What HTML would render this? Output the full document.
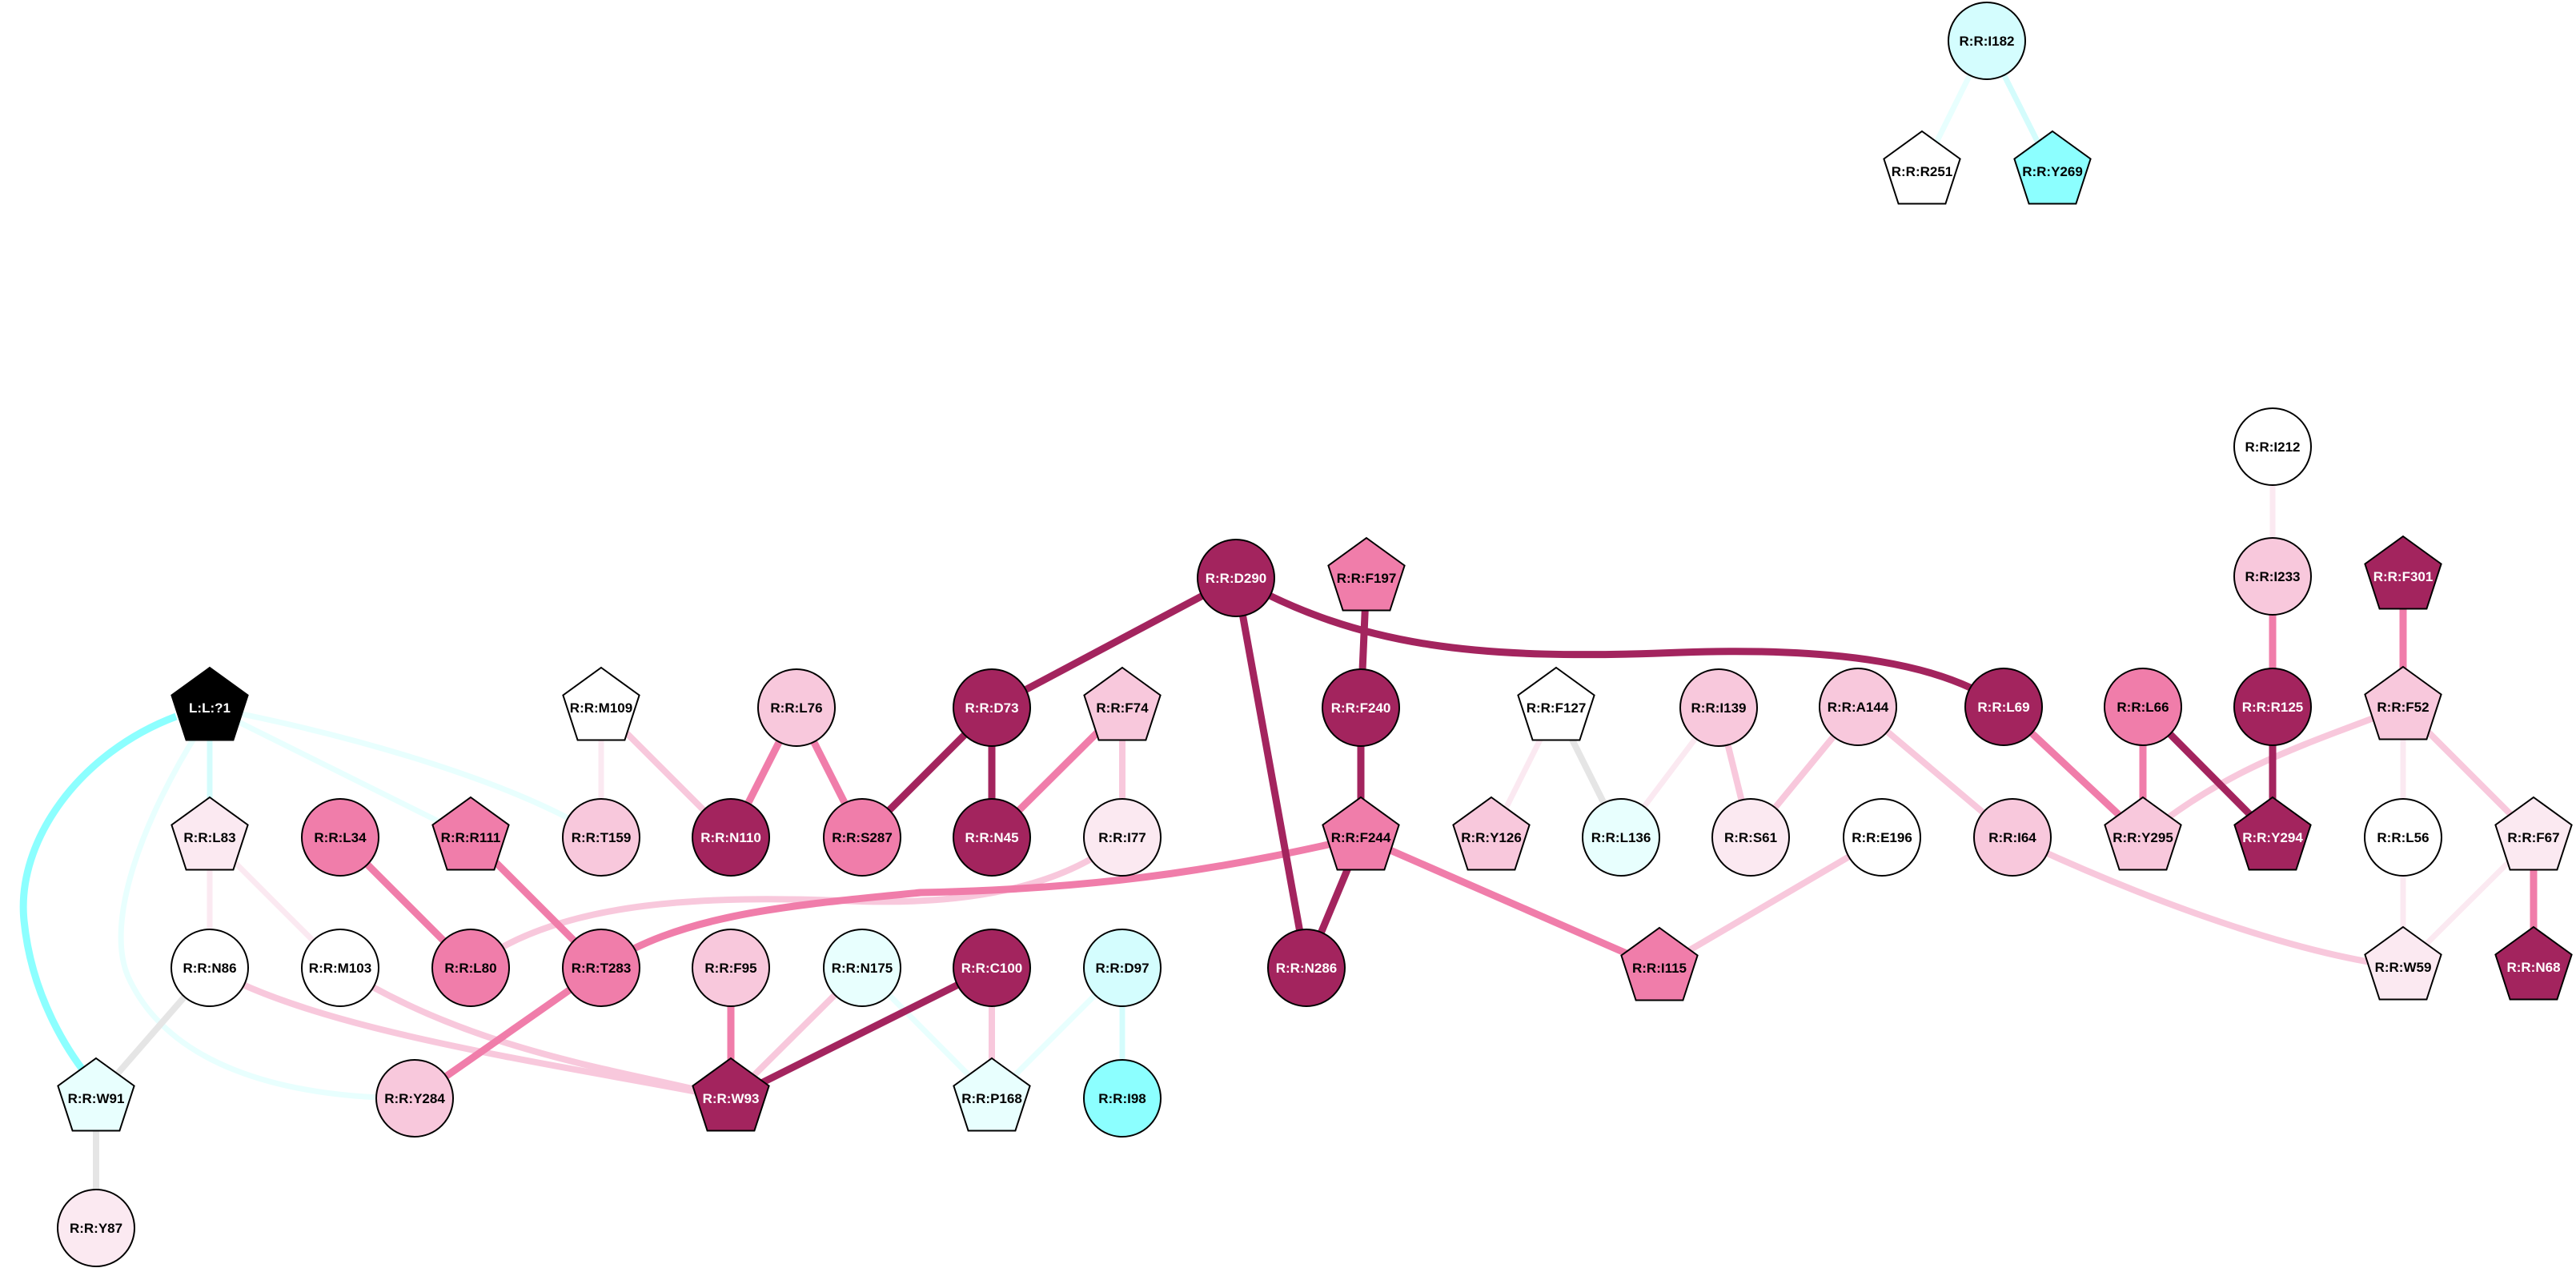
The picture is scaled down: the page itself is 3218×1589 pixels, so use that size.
<!DOCTYPE html>
<html><head><meta charset="utf-8"><style>html,body{margin:0;padding:0;background:#fff}svg{display:block}</style></head>
<body>
<svg width="3218" height="1589" viewBox="0 0 3218 1589" xmlns="http://www.w3.org/2000/svg">
<defs>
<polygon id="pg" points="0,-50 47.6,-15.5 29.4,40.5 -29.4,40.5 -47.6,-15.5"/>
</defs>
<g fill="none" stroke-linecap="butt">
<!-- cyan edges -->
<path d="M220,895 C100,940 20,1050 30,1150 C40,1250 90,1320 110,1345" stroke="#8cffff" stroke-width="9"/>
<line x1="262" y1="884" x2="262" y2="1046" stroke="#d4fcfc" stroke-width="7"/>
<line x1="262" y1="884" x2="588" y2="1046" stroke="#e8fffe" stroke-width="7"/>
<path d="M262,884 C450,920 650,980 751,1046" stroke="#e8fffe" stroke-width="7"/>
<path d="M250,910 C180,1020 130,1150 160,1220 C210,1330 350,1372 518,1372" stroke="#e8fffe" stroke-width="7"/>
<line x1="1077" y1="1209" x2="1239" y2="1372" stroke="#e8fffe" stroke-width="7"/>
<line x1="1402" y1="1209" x2="1239" y2="1372" stroke="#e8fffe" stroke-width="7"/>
<line x1="1402" y1="1209" x2="1402" y2="1372" stroke="#d4fcfc" stroke-width="7"/>
<line x1="2482" y1="51" x2="2401" y2="214" stroke="#e8fffe" stroke-width="7"/>
<line x1="2482" y1="51" x2="2564" y2="214" stroke="#d4fcfc" stroke-width="7"/>
<!-- gray -->
<line x1="262" y1="1209" x2="120" y2="1372" stroke="#e5e5e5" stroke-width="8"/>
<line x1="120" y1="1372" x2="120" y2="1534" stroke="#e5e5e5" stroke-width="8"/>
<line x1="1944" y1="884" x2="2025" y2="1046" stroke="#e5e5e5" stroke-width="8"/>
<!-- very light pink -->
<g stroke="#fbe9f1" stroke-width="7">
<line x1="262" y1="1046" x2="262" y2="1209"/>
<line x1="262" y1="1046" x2="425" y2="1209"/>
<line x1="751" y1="884" x2="751" y2="1046"/>
<line x1="1944" y1="884" x2="1863" y2="1046"/>
<line x1="2147" y1="884" x2="2025" y2="1046"/>
<line x1="2839" y1="558" x2="2839" y2="720"/>
<line x1="3002" y1="883" x2="3002" y2="1046"/>
<line x1="3002" y1="1046" x2="3002" y2="1208"/>
<line x1="3165" y1="1046" x2="3002" y2="1208"/>
</g>
<!-- light pink -->
<g stroke="#f8c8dc" stroke-width="8">
<line x1="751" y1="884" x2="913" y2="1046"/>
<path d="M262,1209 C400,1290 700,1330 913,1372"/>
<path d="M425,1209 C600,1320 800,1340 913,1372"/>
<path d="M588,1209 C700,1120 900,1120 1050,1125 C1250,1135 1350,1090 1402,1046"/>
<line x1="1077" y1="1209" x2="913" y2="1372"/>
<line x1="1402" y1="884" x2="1402" y2="1046"/>
<line x1="1239" y1="1209" x2="1239" y2="1372"/>
<line x1="2147" y1="884" x2="2187" y2="1046"/>
<line x1="2321" y1="883" x2="2187" y2="1046"/>
<line x1="2321" y1="883" x2="2514" y2="1046"/>
<line x1="2351" y1="1046" x2="2073" y2="1209"/>
<path d="M3002,883 C2880,930 2780,960 2677,1046"/>
<line x1="3002" y1="883" x2="3165" y2="1046"/>
<path d="M2514,1046 C2650,1110 2850,1190 3002,1208"/>
</g>
<!-- pink -->
<g stroke="#f07daa" stroke-width="9">
<line x1="425" y1="1046" x2="588" y2="1209"/>
<line x1="588" y1="1046" x2="751" y2="1209"/>
<line x1="995" y1="884" x2="913" y2="1046"/>
<line x1="995" y1="884" x2="1077" y2="1046"/>
<path d="M751,1209 C850,1140 1000,1130 1150,1115 C1400,1110 1550,1080 1700,1046"/>
<line x1="751" y1="1209" x2="518" y2="1372"/>
<line x1="913" y1="1209" x2="913" y2="1372"/>
<line x1="1402" y1="884" x2="1239" y2="1046"/>
<line x1="1700" y1="1046" x2="2073" y2="1209"/>
<line x1="2503" y1="883" x2="2677" y2="1046"/>
<line x1="2677" y1="883" x2="2677" y2="1046"/>
<line x1="2839" y1="720" x2="2839" y2="883"/>
<line x1="3002" y1="720" x2="3002" y2="883"/>
<line x1="3165" y1="1046" x2="3165" y2="1208"/>
</g>
<!-- dark -->
<g stroke="#a3245e" stroke-width="9">
<line x1="1239" y1="1209" x2="913" y2="1372"/>
<line x1="1544" y1="722" x2="1239" y2="884"/>
<line x1="1544" y1="722" x2="1632" y2="1209"/>
<path d="M1544,722 C1700,810 1850,825 2100,815 C2300,808 2430,830 2503,883"/>
<line x1="1707" y1="722" x2="1700" y2="884"/>
<line x1="1700" y1="884" x2="1700" y2="1046"/>
<line x1="1700" y1="1046" x2="1632" y2="1209"/>
<line x1="1239" y1="884" x2="1077" y2="1046"/>
<line x1="1239" y1="884" x2="1239" y2="1046"/>
<line x1="2677" y1="883" x2="2839" y2="1046"/>
<line x1="2839" y1="883" x2="2839" y2="1046"/>
</g>
</g>
<g stroke="#000" stroke-width="2" font-family="Liberation Sans, Arial, sans-serif" font-weight="bold" font-size="17" text-anchor="middle">
<!-- nodes: circles -->
<g>
<circle cx="995" cy="884" r="48" fill="#f8c8dc"/>
<circle cx="425" cy="1046" r="48" fill="#f07daa"/>
<circle cx="751" cy="1046" r="48" fill="#f8c8dc"/>
<circle cx="913" cy="1046" r="48" fill="#a3245e"/>
<circle cx="1077" cy="1046" r="48" fill="#f07daa"/>
<circle cx="262" cy="1209" r="48" fill="#fff"/>
<circle cx="425" cy="1209" r="48" fill="#fff"/>
<circle cx="588" cy="1209" r="48" fill="#f07daa"/>
<circle cx="751" cy="1209" r="48" fill="#f07daa"/>
<circle cx="913" cy="1209" r="48" fill="#f8c8dc"/>
<circle cx="1077" cy="1209" r="48" fill="#e8fffe"/>
<circle cx="518" cy="1372" r="48" fill="#f8c8dc"/>
<circle cx="120" cy="1534" r="48" fill="#fbe9f1"/>
<circle cx="1544" cy="722" r="48" fill="#a3245e"/>
<circle cx="1239" cy="884" r="48" fill="#a3245e"/>
<circle cx="1700" cy="884" r="48" fill="#a3245e"/>
<circle cx="2147" cy="884" r="48" fill="#f8c8dc"/>
<circle cx="1239" cy="1046" r="48" fill="#a3245e"/>
<circle cx="1402" cy="1046" r="48" fill="#fbe9f1"/>
<circle cx="2025" cy="1046" r="48" fill="#e8fffe"/>
<circle cx="2187" cy="1046" r="48" fill="#fbe9f1"/>
<circle cx="1239" cy="1209" r="48" fill="#a3245e"/>
<circle cx="1402" cy="1209" r="48" fill="#d4fdfe"/>
<circle cx="1632" cy="1209" r="48" fill="#a3245e"/>
<circle cx="1402" cy="1372" r="48" fill="#8cffff"/>
<circle cx="2482" cy="51" r="48" fill="#d4fdfe"/>
<circle cx="2839" cy="558" r="48" fill="#fff"/>
<circle cx="2839" cy="720" r="48" fill="#f8c8dc"/>
<circle cx="2321" cy="883" r="48" fill="#f8c8dc"/>
<circle cx="2503" cy="883" r="48" fill="#a3245e"/>
<circle cx="2677" cy="883" r="48" fill="#f07daa"/>
<circle cx="2839" cy="883" r="48" fill="#a3245e"/>
<circle cx="2351" cy="1046" r="48" fill="#fff"/>
<circle cx="2514" cy="1046" r="48" fill="#f8c8dc"/>
<circle cx="3002" cy="1046" r="48" fill="#fff"/>
</g>
<!-- pentagons -->
<use href="#pg" x="262" y="884" fill="#000"/>
<use href="#pg" x="751" y="884" fill="#fff"/>
<use href="#pg" x="262" y="1046" fill="#fbe9f1"/>
<use href="#pg" x="588" y="1046" fill="#f07daa"/>
<use href="#pg" x="120" y="1372" fill="#e8fffe"/>
<use href="#pg" x="913" y="1372" fill="#a3245e"/>
<use href="#pg" x="1707" y="722" fill="#f07daa"/>
<use href="#pg" x="1402" y="884" fill="#f8c8dc"/>
<use href="#pg" x="1944" y="884" fill="#fff"/>
<use href="#pg" x="1700" y="1046" fill="#f07daa"/>
<use href="#pg" x="1863" y="1046" fill="#f8c8dc"/>
<use href="#pg" x="2073" y="1209" fill="#f07daa"/>
<use href="#pg" x="1239" y="1372" fill="#e8fffe"/>
<use href="#pg" x="2401" y="214" fill="#fff"/>
<use href="#pg" x="2564" y="214" fill="#8cffff"/>
<use href="#pg" x="3002" y="720" fill="#a3245e"/>
<use href="#pg" x="3002" y="883" fill="#f8c8dc"/>
<use href="#pg" x="2677" y="1046" fill="#f8c8dc"/>
<use href="#pg" x="2839" y="1046" fill="#a3245e"/>
<use href="#pg" x="3165" y="1046" fill="#fbe9f1"/>
<use href="#pg" x="3002" y="1208" fill="#fbe9f1"/>
<use href="#pg" x="3165" y="1208" fill="#a3245e"/>
</g>
<g font-family="Liberation Sans, Arial, sans-serif" font-weight="bold" font-size="17" text-anchor="middle" fill="#000">
<text x="262" y="890" fill="#fff">L:L:?1</text>
<text x="751" y="890">R:R:M109</text>
<text x="995" y="890">R:R:L76</text>
<text x="262" y="1052">R:R:L83</text>
<text x="425" y="1052">R:R:L34</text>
<text x="588" y="1052">R:R:R111</text>
<text x="751" y="1052">R:R:T159</text>
<text x="913" y="1052" fill="#fff">R:R:N110</text>
<text x="1077" y="1052">R:R:S287</text>
<text x="262" y="1215">R:R:N86</text>
<text x="425" y="1215">R:R:M103</text>
<text x="588" y="1215">R:R:L80</text>
<text x="751" y="1215">R:R:T283</text>
<text x="913" y="1215">R:R:F95</text>
<text x="1077" y="1215">R:R:N175</text>
<text x="120" y="1378">R:R:W91</text>
<text x="518" y="1378">R:R:Y284</text>
<text x="913" y="1378" fill="#fff">R:R:W93</text>
<text x="120" y="1540">R:R:Y87</text>
<text x="1544" y="728" fill="#fff">R:R:D290</text>
<text x="1707" y="728">R:R:F197</text>
<text x="1239" y="890" fill="#fff">R:R:D73</text>
<text x="1402" y="890">R:R:F74</text>
<text x="1700" y="890" fill="#fff">R:R:F240</text>
<text x="1944" y="890">R:R:F127</text>
<text x="2147" y="890">R:R:I139</text>
<text x="1239" y="1052" fill="#fff">R:R:N45</text>
<text x="1402" y="1052">R:R:I77</text>
<text x="1700" y="1052">R:R:F244</text>
<text x="1863" y="1052">R:R:Y126</text>
<text x="2025" y="1052">R:R:L136</text>
<text x="2187" y="1052">R:R:S61</text>
<text x="1239" y="1215" fill="#fff">R:R:C100</text>
<text x="1402" y="1215">R:R:D97</text>
<text x="1632" y="1215" fill="#fff">R:R:N286</text>
<text x="2073" y="1215">R:R:I115</text>
<text x="1239" y="1378">R:R:P168</text>
<text x="1402" y="1378">R:R:I98</text>
<text x="2482" y="57">R:R:I182</text>
<text x="2401" y="220">R:R:R251</text>
<text x="2564" y="220">R:R:Y269</text>
<text x="2839" y="564">R:R:I212</text>
<text x="2839" y="726">R:R:I233</text>
<text x="3002" y="726" fill="#fff">R:R:F301</text>
<text x="2321" y="889">R:R:A144</text>
<text x="2503" y="889" fill="#fff">R:R:L69</text>
<text x="2677" y="889">R:R:L66</text>
<text x="2839" y="889" fill="#fff">R:R:R125</text>
<text x="3002" y="889">R:R:F52</text>
<text x="2351" y="1052">R:R:E196</text>
<text x="2514" y="1052">R:R:I64</text>
<text x="2677" y="1052">R:R:Y295</text>
<text x="2839" y="1052" fill="#fff">R:R:Y294</text>
<text x="3002" y="1052">R:R:L56</text>
<text x="3165" y="1052">R:R:F67</text>
<text x="3002" y="1214">R:R:W59</text>
<text x="3165" y="1214" fill="#fff">R:R:N68</text>
</g>
</svg>
</body></html>
